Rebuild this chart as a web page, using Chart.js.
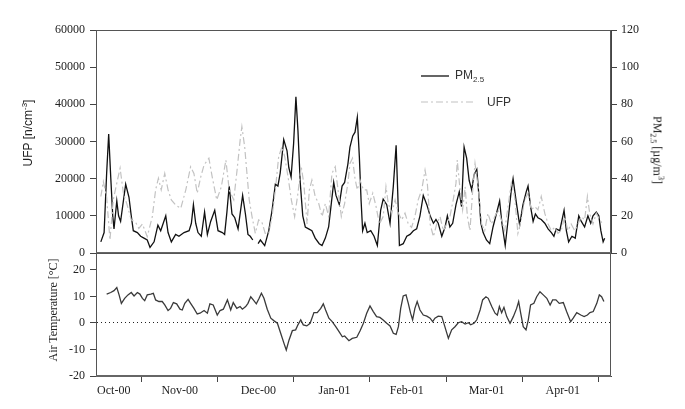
<!DOCTYPE html>
<html>
<head>
<meta charset="utf-8">
<script src="https://cdn.jsdelivr.net/npm/chart.js@4.4.1/dist/chart.umd.min.js"></script>
<style>
  body { margin: 0; background: #fff; }
  #wrap { position: relative; width: 685px; height: 409px; overflow: hidden; background: #fff; }
  #wrap canvas { position: absolute; left: 0; top: 0; }
  .title { position: absolute; white-space: nowrap; font: 12px 'Liberation Serif', serif; color: #222; }
  .title sub, .title sup, .legend-text sub { font-size: 8px; line-height: 0; }
  .legend-text { position: absolute; white-space: nowrap; font: 12px 'Liberation Sans', Arial, sans-serif; color: #333; }
  #legendLines { position: absolute; left: 418px; top: 66px; }
</style>
</head>
<body>
<div id="wrap">
  <canvas id="topChart" width="685" height="409"></canvas>
  <canvas id="bottomChart" width="685" height="409"></canvas>

  <div class="title" style="left:28px;top:133px;transform:translate(-50%,-50%) rotate(-90deg);font-family:'Liberation Sans',Arial,sans-serif;">UFP [n/cm<sup>-3</sup>]</div>
  <div class="title" style="left:657px;top:150px;transform:translate(-50%,-50%) rotate(90deg);">PM<sub>2.5</sub> [µg/m<sup>3</sup>]</div>
  <div class="title" style="left:53px;top:310px;transform:translate(-50%,-50%) rotate(-90deg);">Air Temperature [°C]</div>

  <svg id="legendLines" width="60" height="44"></svg>
  <div class="legend-text" style="left:455px;top:68px;">PM<sub>2.5</sub></div>
  <div class="legend-text" style="left:487px;top:95px;">UFP</div>
</div>

<script>
// days counted from the left edge of the plot (x axis is daily)
const monthLabels = ['Oct-00', 'Nov-00', 'Dec-00', 'Jan-01', 'Feb-01', 'Mar-01', 'Apr-01'];
const monthLabelDays = [7, 33, 64, 94, 122.5, 154, 184];
const monthTickDays = [18, 48, 78, 108, 138, 168, 198];
const tempTicks = [-20, -10, 0, 10, 20];

const pmDays = [1.9, 3.2, 4.2, 5.0, 5.8, 6.6, 7.1, 8.2, 8.9, 9.7, 11.7, 13.0, 13.9, 14.7, 16.3, 17.6, 18.9, 20.2, 21.3, 22.9,
  24.4, 25.5, 27.5, 28.4, 29.7, 31.4, 32.7, 34.7, 36.7, 37.6, 38.4, 39.3, 40.2, 41.5, 42.8, 43.9, 45.2, 46.8, 48.1, 49.8,
  50.7, 51.6, 52.5, 53.6, 54.7, 56.0, 57.8, 58.9, 59.9, 60.8, 61.8, 62.9, 63.9, 64.8, 66.5, 68.1, 69.4, 70.7, 71.7, 72.6,
  74.0, 75.3, 76.0, 76.9, 77.9, 78.8, 79.6, 80.5, 81.5, 82.5, 83.8, 85.1, 86.4, 88.0, 89.1, 90.4, 91.7, 92.7, 93.7, 94.6,
  95.9, 97.0, 98.0, 99.3, 100.1, 101.2, 102.1, 103.0, 103.8, 104.5, 105.1, 106.0, 106.9, 108.3, 109.6, 110.9, 112.2, 113.2, 114.6, 115.9,
  117.2, 118.3, 118.9, 119.6, 121.1, 122.5, 123.8, 125.1, 126.4, 127.7, 129.0, 130.4, 131.7, 133.0, 134.0, 134.9, 136.3, 137.6, 138.5, 139.5,
  140.6, 141.9, 143.2, 144.1, 145.1, 146.1, 147.1, 148.1, 149.0, 150.1, 151.1, 151.7, 152.6, 153.9, 155.2, 156.5, 157.8, 159.1, 160.0, 161.3,
  162.7, 163.7, 164.4, 165.7, 167.0, 168.3, 169.6, 170.3, 171.3, 172.3, 173.2, 174.2, 175.5, 176.9, 178.2, 179.5, 180.5, 181.4, 182.8, 184.5,
  185.4, 186.3, 187.6, 188.9, 190.3, 191.3, 192.6, 193.9, 195.0, 195.9, 197.2, 198.2, 199.0, 199.9, 200.5];
const pm25 = [6, 11, 43, 64, 41, 20, 13, 28, 20, 17, 37, 30, 20, 12, 11, 9, 8, 7, 3, 6,
  15, 12, 20, 11, 6, 10, 9, 11, 12, 16, 26, 16, 11, 9, 22, 10, 17, 23, 12, 11,
  10, 22, 36, 21, 19, 13, 31, 21, 10, 9, 7, null, 5, 7, 4, 12, 23, 37, 36, 43,
  61, 55, 46, 41, 59, 84, 66, 38, 20, 14, 13, 12, 8, 5, 4, 8, 14, 26, 38, 31,
  26, 36, 38, 48, 57, 63, 65, 73, 52, 28, 12, 16, 11, 12, 9, 4, 23, 29, 26, 16,
  36, 58, 34, 4, 5, 9, 10, 12, 13, 20, 31, 26, 20, 16, 18, 16, 9, 14, 20, 14,
  16, 26, 33, 25, 57, 51, 39, 34, 42, 45, 28, 16, 11, 7, 5, 14, 21, 28, 16, 4,
  21, 34, 40, 27, 15, 26, 33, 36, 25, 17, 21, 19, 18, 16, 13, 11, 9, 13, 12, 23,
  12, 6, 9, 8, 20, 17, 14, 20, 16, 20, 22, 20, 12, 6, 8];

const ufpDays = [1.9, 2.9, 4.2, 5.5, 6.8, 8.2, 9.5, 10.8, 12.3, 13.9, 15.6, 16.9, 18.3, 20.2, 22.2, 23.5, 24.6, 25.7, 27.1, 28.4,
  29.7, 31.4, 33.4, 35.4, 37.3, 38.6, 39.9, 41.3, 42.6, 44.5, 45.8, 47.6, 49.4, 51.2, 52.5, 54.3, 55.6, 56.9, 57.5, 58.6,
  59.5, 60.4, 61.5, 62.8, 64.1, 65.4, 66.7, 68.1, 69.4, 70.7, 72.0, 73.3, 74.4, 75.7, 77.0, 78.3, 79.6, 80.9, 81.9, 83.2,
  84.1, 85.1, 86.4, 87.8, 89.1, 90.4, 91.7, 93.0, 94.3, 95.4, 96.7, 98.0, 99.3, 100.1, 101.1, 102.1, 103.0, 104.1, 105.4, 106.7,
  107.7, 109.1, 110.4, 111.7, 113.2, 114.3, 115.2, 116.6, 117.9, 119.2, 120.5, 121.8, 123.1, 124.4, 125.7, 127.0, 128.4, 129.7, 130.6, 131.7,
  133.0, 134.3, 135.6, 136.9, 138.2, 139.5, 140.8, 141.9, 142.4, 143.5, 144.5, 145.5, 146.4, 147.4, 148.5, 149.4, 150.7, 152.0, 153.2, 154.5,
  155.8, 157.2, 158.5, 159.8, 161.1, 162.4, 163.7, 165.0, 166.3, 167.6, 169.0, 170.3, 171.6, 172.9, 174.2, 175.5, 176.9, 178.2, 179.5, 180.8,
  182.1, 183.4, 184.7, 186.0, 187.3, 188.7, 190.0, 191.3, 192.6, 193.7, 194.6, 195.9, 197.2, 198.5, 199.9];
const ufp = [15200, 19200, 15000, 3500, 14300, 18800, 22800, 16100, 12900, 8900, 8300, 6600, 7800, 4400, 9800, 17000, 20100, 17000, 21400, 17000,
  14300, 12900, 12000, 17000, 23200, 21400, 16100, 20500, 23700, 25500, 20500, 14300, 17800, 25000, 17000, 14300, 22300, 30900, 34000, 28600,
  21400, 14300, 9800, 5300, 8900, 8300, 5300, 5300, 9800, 17000, 25900, 28600, 25900, 20500, 14300, 9800, 16100, 23200, 18800, 7800,
  17000, 19600, 15200, 13300, 9800, 13300, 9800, 21400, 23200, 17000, 9800, 13300, 18800, 24100, 25500, 20000, 17000, 19600, 17000, 17000,
  13300, 16100, 12500, 7800, 9800, 17800, 13300, 10700, 14300, 10700, 8900, 10700, 7800, 6900, 9800, 14300, 17000, 22300, 18800, 7800,
  4400, 7800, 9800, 6000, 7800, 9800, 14300, 18800, 25000, 17000, 11600, 17800, 9800, 6000, 17000, 24100, 17400, 7800, 6000, 10700,
  7800, 9800, 11600, 8900, 6000, 12500, 18800, 15200, 5300, 8900, 14300, 16100, 11600, 12500, 11600, 15200, 10700, 7800, 6000, 6900,
  5300, 6000, 9800, 6000, 7800, 6000, 7800, 9800, 8900, 15200, 10700, 7800, 10700, 8900, 7800];

const tempDays = [4.2, 5.8, 7.1, 8.2, 9.1, 10.0, 11.3, 12.6, 13.9, 15.0, 16.3, 17.3, 18.3, 19.2, 20.2, 21.6, 22.6, 23.5, 24.8, 26.1,
  27.1, 28.4, 29.4, 30.5, 31.8, 33.1, 34.0, 35.0, 36.3, 37.3, 38.6, 39.9, 41.0, 42.6, 43.9, 44.9, 46.2, 47.8, 48.9, 50.2,
  51.8, 53.1, 54.1, 55.5, 56.8, 57.7, 59.0, 59.9, 61.0, 62.0, 63.2, 64.3, 65.2, 66.2, 67.5, 68.9, 70.2, 71.5, 72.8, 74.1,
  75.0, 76.1, 77.4, 78.7, 79.6, 80.7, 81.7, 83.1, 84.4, 85.9, 87.2, 88.6, 89.6, 90.5, 91.8, 93.1, 94.5, 95.8, 97.1, 98.0,
  99.7, 101.0, 102.8, 104.1, 105.4, 106.7, 108.0, 109.3, 110.6, 111.9, 113.2, 114.6, 115.9, 117.2, 118.3, 119.2, 120.1, 121.1, 122.2, 123.1,
  124.0, 124.8, 125.7, 126.6, 127.7, 129.0, 130.4, 131.7, 132.7, 133.6, 134.9, 136.3, 137.3, 138.9, 140.2, 141.5, 142.8, 144.1, 145.5, 146.8,
  147.7, 149.0, 150.1, 151.4, 152.4, 153.7, 154.6, 156.0, 157.3, 158.2, 159.0, 159.9, 160.8, 161.9, 163.2, 164.5, 165.8, 166.6, 167.4, 168.4,
  169.5, 170.4, 171.3, 172.6, 173.7, 175.0, 176.3, 177.7, 179.0, 180.0, 181.3, 182.6, 184.2, 185.5, 187.1, 188.1, 189.5, 191.1, 192.4, 193.7,
  194.7, 196.0, 197.4, 198.4, 199.3, 200.2];
const airTemp = [10.9, 11.5, 12.2, 13.4, 10.6, 7.4, 9.3, 10.6, 11.5, 10.2, 11.5, 10.9, 9.3, 8.4, 10.6, 10.9, 11.2, 8.7, 8.1, 8.1,
  6.8, 4.7, 5.5, 7.7, 7.2, 5.2, 4.9, 7.4, 8.9, 7.4, 5.5, 3.4, 3.7, 4.7, 3.7, 7.2, 6.8, 3.0, 4.7, 5.2,
  8.7, 4.9, 7.7, 5.5, 6.2, 5.2, 6.2, 7.4, 9.9, 8.7, 7.2, 9.3, 11.2, 9.3, 5.2, 1.8, 0.8, -0.1, -3.9, -7.7,
  -10.2, -6.4, -2.9, -2.6, -0.7, 1.2, -0.7, -1.1, -0.1, 3.9, 3.9, 5.5, 7.2, 4.9, 1.8, 0.5, -1.4, -3.3, -5.2, -4.9,
  -6.7, -5.8, -5.4, -2.9, -0.1, 3.7, 6.4, 4.3, 2.4, 2.1, 1.1, -0.1, -1.1, -3.9, -4.3, -1.4, 5.5, 10.2, 10.6, 7.4,
  3.7, 1.2, 5.5, 8.1, 4.9, 3.0, 2.6, 1.8, 0.5, 1.8, 2.6, 2.4, -0.7, -5.8, -2.6, -1.4, 0.1, 0.5, -0.4, 0.1,
  -0.7, -0.1, 1.2, 4.9, 8.7, 9.9, 9.3, 6.2, 3.7, 3.0, 6.2, 3.9, 5.9, 2.4, -0.1, 2.4, 5.5, 8.1, 3.7, -1.4,
  -2.6, 1.2, 6.8, 7.4, 9.9, 11.8, 10.6, 9.3, 6.8, 8.7, 8.7, 7.4, 7.7, 4.3, 0.5, 1.8, 3.9, 3.0, 2.4, 3.0,
  3.9, 4.3, 7.4, 10.6, 9.9, 8.1];

const xMax = 203;
const axisColor = '#444';
const tickFont = { family: "'Liberation Serif', serif", size: 12 };
const pmStyle = { color: '#111111', width: 1.3, dash: [] };
const ufpStyle = { color: '#c2c2c2', width: 1.2, dash: [7, 3, 2, 3] };

const toPoints = (xs, ys) => xs.map((x, i) => ({ x, y: ys[i] }));

// outline round the plot area; the shared edge between the panels is drawn heavier
const framePlugin = {
  id: 'frame',
  afterDraw(chart, args, opts) {
    const { ctx, chartArea: a } = chart;
    ctx.save();
    ctx.strokeStyle = '#555';
    ctx.lineWidth = 1;
    ctx.strokeRect(a.left + 0.5, a.top + 0.5, a.right - a.left - 1, a.bottom - a.top);
    ctx.strokeStyle = '#666';
    ctx.lineWidth = 2;
    ctx.beginPath();
    const y = opts.heavyEdge === 'bottom' ? a.bottom : a.top;
    ctx.moveTo(a.left, y);
    ctx.lineTo(a.right, y);
    ctx.stroke();
    ctx.restore();
  },
};

new Chart(document.getElementById('topChart'), {
  type: 'line',
  data: {
    datasets: [
      {
        label: 'UFP',
        data: toPoints(ufpDays, ufp),
        yAxisID: 'yUfp',
        borderColor: ufpStyle.color,
        borderWidth: ufpStyle.width,
        borderDash: ufpStyle.dash,
        pointRadius: 0,
        tension: 0,
      },
      {
        label: 'PM2.5',
        data: toPoints(pmDays, pm25),
        yAxisID: 'yPm',
        borderColor: pmStyle.color,
        borderWidth: pmStyle.width,
        pointRadius: 0,
        tension: 0,
        spanGaps: false,
      },
    ],
  },
  options: {
    responsive: false,
    animation: false,
    events: [],
    layout: { padding: { top: 30, bottom: 156, left: 0, right: 0 } },
    plugins: { legend: { display: false }, tooltip: { enabled: false }, frame: { heavyEdge: 'bottom' } },
    scales: {
      x: { type: 'linear', min: 0, max: xMax, display: false },
      yUfp: {
        position: 'left',
        min: 0,
        max: 60000,
        afterFit: (s) => { s.width = 96; },
        ticks: { stepSize: 10000, padding: 5, font: tickFont, color: '#222', callback: (v) => String(v) },
        grid: { drawOnChartArea: false, tickLength: 6, tickColor: axisColor },
        border: { color: axisColor },
      },
      yPm: {
        position: 'right',
        min: 0,
        max: 120,
        afterFit: (s) => { s.width = 74; },
        ticks: { stepSize: 20, padding: 4, font: tickFont, color: '#222', callback: (v) => String(v) },
        grid: { drawOnChartArea: false, tickLength: 6, tickColor: axisColor },
        border: { color: axisColor },
      },
    },
  },
  plugins: [framePlugin],
});

new Chart(document.getElementById('bottomChart'), {
  type: 'line',
  data: {
    datasets: [{
      label: 'Air Temperature',
      data: toPoints(tempDays, airTemp),
      borderColor: '#3a3a3a',
      borderWidth: 1.3,
      pointRadius: 0,
      tension: 0,
    }],
  },
  options: {
    responsive: false,
    animation: false,
    events: [],
    layout: { padding: { top: 253, bottom: 0, left: 0, right: 74 } },
    plugins: { legend: { display: false }, tooltip: { enabled: false }, frame: { heavyEdge: 'bottom' } },
    scales: {
      x: {
        type: 'linear',
        min: 0,
        max: xMax,
        afterFit: (s) => { s.height = 33; },
        afterBuildTicks: (axis) => {
          axis.ticks = [...monthLabelDays, ...monthTickDays].sort((a, b) => a - b).map((value) => ({ value }));
        },
        ticks: {
          autoSkip: false,
          maxRotation: 0,
          minRotation: 0,
          padding: 2,
          font: tickFont,
          color: '#222',
          callback: (v) => {
            const i = monthLabelDays.indexOf(v);
            return i >= 0 ? monthLabels[i] : '';
          },
        },
        grid: {
          drawOnChartArea: false,
          tickLength: 6,
          tickColor: (ctx) => (ctx.tick && monthTickDays.includes(ctx.tick.value) ? axisColor : 'rgba(0,0,0,0)'),
        },
        border: { color: axisColor },
      },
      y: {
        position: 'left',
        min: -20,
        max: 26.4,
        afterFit: (s) => { s.width = 96; },
        afterBuildTicks: (axis) => { axis.ticks = tempTicks.map((value) => ({ value })); },
        ticks: { padding: 5, font: tickFont, color: '#222', callback: (v) => String(v) },
        grid: {
          drawOnChartArea: true,
          color: (ctx) => (ctx.tick && ctx.tick.value === 0 ? '#222' : 'rgba(0,0,0,0)'),
          tickLength: 6,
          tickColor: axisColor,
        },
        border: { color: axisColor, dash: [1, 3] },
      },
    },
  },
  plugins: [framePlugin],
});

// legend samples use the same styles as the datasets
const svg = document.getElementById('legendLines');
const legendRows = [
  { style: pmStyle, y: 10, len: 28 },
  { style: ufpStyle, y: 36, len: 52 },
];
svg.innerHTML = legendRows.map((r) =>
  `<line x1="3" y1="${r.y}" x2="${3 + r.len}" y2="${r.y}" stroke="${r.style.color}" stroke-width="${r.style.width}" stroke-dasharray="${r.style.dash.join(' ')}"/>`
).join('');
</script>
</body>
</html>
